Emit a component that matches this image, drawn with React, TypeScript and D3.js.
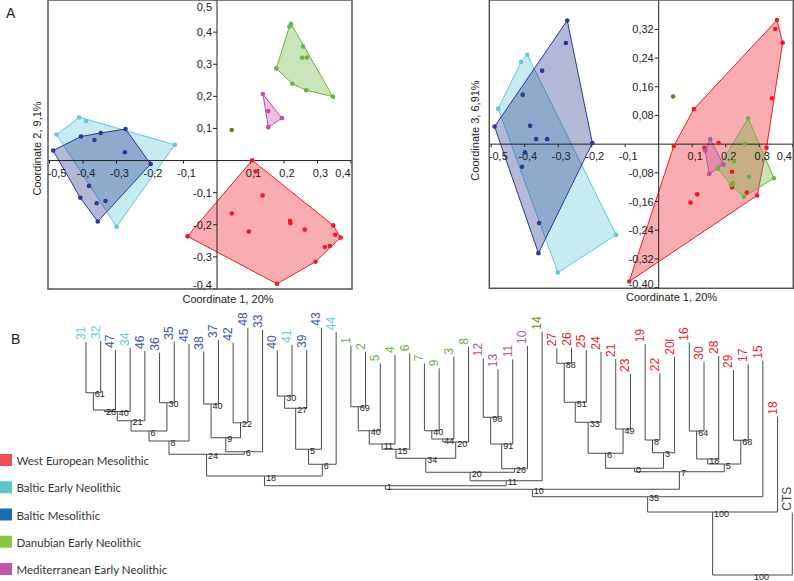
import React from 'react';
import * as d3 from 'd3';

type Pt = [number, number];

// Panel A left: Coordinate 1 (20%) vs Coordinate 2 (9,1%)
const wemA: Pt[] = [[0.105, 0.001], [0.115, -0.034], [0.136, -0.109], [0.044, -0.165], [0.218, -0.188], [0.219, -0.195], [0.262, -0.215], [0.095, -0.221], [-0.088, -0.236], [0.347, -0.202], [0.353, -0.231], [0.369, -0.24], [0.322, -0.269], [0.337, -0.266], [0.294, -0.315], [0.179, -0.384]];
const benA: Pt[] = [[-0.411, 0.135], [-0.391, 0.123], [-0.479, 0.081], [-0.126, 0.049], [-0.3, -0.206]];
const bmA: Pt[] = [[-0.489, 0.031], [-0.406, 0.075], [-0.347, 0.086], [-0.273, 0.098], [-0.366, 0.064], [-0.275, 0.026], [-0.198, -0.011], [-0.382, -0.079], [-0.408, -0.116], [-0.333, -0.126], [-0.359, -0.133], [-0.356, -0.19]];
const denA: Pt[] = [[0.221, 0.426], [0.216, 0.417], [0.257, 0.355], [0.254, 0.32], [0.268, 0.321], [0.177, 0.287], [0.225, 0.239], [0.266, 0.219], [0.346, 0.199]];
const menA: Pt[] = [[0.137, 0.207], [0.153, 0.154], [0.194, 0.132], [0.153, 0.104]];
const isoA: Pt[] = [[0.044, 0.095]];

// Panel A right: Coordinate 1 (20%) vs Coordinate 3 (6,91%)
const wemB: Pt[] = [[0.353, 0.346], [0.348, 0.321], [0.37, 0.283], [0.338, 0.128], [0.105, 0.098], [0.045, -0.005], [0.136, -0.01], [0.179, 0.003], [0.322, -0.01], [0.219, -0.077], [0.219, -0.121], [0.263, -0.135], [0.294, -0.143], [0.115, -0.14], [0.095, -0.163], [-0.088, -0.383]];
const benB: Pt[] = [[-0.392, 0.249], [-0.411, 0.229], [-0.479, 0.099], [-0.127, -0.253], [-0.301, -0.358]];
const bmB: Pt[] = [[-0.273, 0.345], [-0.277, 0.282], [-0.348, 0.205], [-0.406, 0.138], [-0.384, 0.051], [-0.366, 0.014], [-0.333, 0.014], [-0.49, 0.049], [-0.198, 0.003], [-0.399, -0.023], [-0.408, -0.063], [-0.357, -0.22], [-0.359, -0.304]];
const denB: Pt[] = [[0.267, 0.072], [0.257, 0.001], [0.225, -0.048], [0.176, -0.068], [0.269, -0.091], [0.344, -0.095], [0.222, -0.108], [0.216, -0.114], [0.254, -0.147]];
const menB: Pt[] = [[0.154, 0.014], [0.139, -0.018], [0.193, -0.057], [0.151, -0.083]];
const isoB: Pt[] = [[0.043, 0.133]];

const xTicks = [-0.5, -0.4, -0.3, -0.2, -0.1, 0.1, 0.2, 0.3, 0.4];
const yTicksA = [-0.4, -0.3, -0.2, -0.1, 0.1, 0.2, 0.3, 0.4, 0.5];
const yTicksB = [-0.4, -0.32, -0.24, -0.16, -0.08, 0.08, 0.16, 0.24, 0.32];

const legendLabels = ['West European Mesolithic', 'Baltic Early Neolithic', 'Baltic Mesolithic', 'Danubian Early Neolithic', 'Mediterranean Early Neolithic'];
const legendKeys = ['wem', 'ben', 'bm', 'den', 'men'];

// Panel B: leaves left to right, their group and tip height
const leafLabels = ['31', '32', '47', '34', '46', '36', '35', '45', '38', '37', '42', '48', '33', '40', '41', '39', '43', '44', '1', '2', '5', '4', '6', '7', '9', '3', '8', '12', '13', '11', '10', '14', '27', '26', '25', '24', '21', '23', '19', '22', '20l', '16', '30', '28', '29', '17', '15', '18', 'CTS'];
const leafGroups = ['ben', 'ben', 'bm', 'ben', 'bm', 'bm', 'bm', 'bm', 'bm', 'bm', 'bm', 'bm', 'bm', 'bm', 'ben', 'bm', 'bm', 'ben', 'den', 'den', 'den', 'den', 'den', 'den', 'den', 'den', 'den', 'men', 'men', 'men', 'men', 'iso', 'wem', 'wem', 'wem', 'wem', 'wem', 'wem', 'wem', 'wem', 'wem', 'wem', 'wem', 'wem', 'wem', 'wem', 'wem', 'wem', 'out'];
const leafHeights = [93.2, 93.6, 90, 90.8, 89.6, 88.9, 93.3, 92.4, 89.3, 94, 92.9, 98.9, 98, 89.7, 92, 90, 98.9, 97.1, 91.7, 89.3, 84.7, 88, 88.7, 84.7, 82.7, 87.3, 91.3, 86.7, 82.3, 86.3, 91.6, 97.3, 90.7, 90.9, 90, 89.3, 86.4, 80.4, 92.3, 80.7, 87.3, 92.9, 85.3, 87.6, 82, 84.4, 85.7, 63.3, 24.9];

// merges: [child a, child b, node height, bootstrap]; numbers refer to earlier merges
const merges: [string | number, string | number, number, number][] = [
  ['31', '32', 72.9, 61], [0, '47', 66, 26], [1, '34', 65.4, 40], [2, '46', 61.7, 21],
  ['36', '35', 68.9, 30], [3, 4, 57.6, 6], [5, '45', 53.6, 8], ['38', '37', 68.4, 40],
  ['42', '48', 60.9, 22], [7, 8, 54.9, 9], [9, '33', 49.3, 6], [6, 10, 48.3, 24],
  ['40', '41', 71.6, 30], [12, '39', 66.7, 27], [13, '43', 50.3, 5], [14, '44', 44.3, 6],
  [11, 15, 39.6, 18], ['1', '2', 67.3, 69], [17, '5', 57.7, 40], [18, '4', 52.4, 11],
  [19, '6', 50.3, 15], ['7', '9', 57.7, 40], [21, '3', 54.4, 44], [22, '8', 53.2, 20],
  [20, 23, 46.7, 34], ['12', '13', 63.1, 98], [25, '11', 52.4, 91], [26, '10', 42.5, 26],
  [24, 27, 41.1, 20], [28, '14', 37.7, 11], [16, 29, 35.7, 1], ['27', '26', 84.7, 88],
  [31, '25', 69.1, 51], [32, '24', 61.1, 33], ['21', '23', 58.4, 49], [33, 34, 48.7, 6],
  ['19', '22', 54, 8], [36, '20l', 48.9, 3], [35, 37, 42.7, 0], ['16', '30', 57.6, 64],
  [39, '28', 46.4, 18], ['29', '17', 53.9, 68], [40, 41, 44.4, 5], [38, 42, 41.3, 7],
  [30, 43, 34.3, 10], [44, '15', 31.3, 35], [45, '18', 25.2, 100], [46, 'CTS', 0, 100],
];

const FILL: Record<string, string> = { wem: '#ed1c24', ben: '#62c7d8', bm: '#2b3990', den: '#6cb33f', men: '#c14fa5', iso: '#6f7d1e' };
const LABEL: Record<string, string> = { wem: '#e8232b', ben: '#6ccbdb', bm: '#3f55a6', den: '#6cb33f', men: '#b553a0', iso: '#7a8a1f', out: '#444' };
const LEGEND: Record<string, string> = { wem: '#ef4f55', ben: '#5cc5d0', bm: '#1c6cb3', den: '#8cc63f', men: '#c256a8' };
const FONT = '"Liberation Sans", Arial, sans-serif';

const fmt = (v: number, d: number) => v.toFixed(d).replace('.', ',');

function Scatter({ left, right, top, bottom, xDomain, yDomain, series, yTicks, yDigits, xTitle, xTitlePos, yTitle, yTitlePos }: any) {
  const x = d3.scaleLinear().domain(xDomain).range([left, right]);
  const y = d3.scaleLinear().domain(yDomain).range([bottom, top]);
  const x0 = x(0), y0 = y(0);
  const groups = series.map(([key, pts]: [string, Pt[]]) => {
    const px = pts.map(p => [x(p[0]), y(p[1])] as [number, number]);
    return { key, px, hull: px.length >= 3 ? d3.polygonHull(px) : null };
  });
  return (
    <g fontFamily={FONT}>
      {groups.map((g: any) => g.hull && (
        <path key={'h' + g.key} d={'M' + g.hull.join('L') + 'Z'} fill={FILL[g.key]} fillOpacity={0.36} stroke={FILL[g.key]} strokeWidth={1} />
      ))}
      <line x1={x0} x2={x0} y1={top} y2={bottom} stroke="#222" />
      <line x1={left} x2={right} y1={y0} y2={y0} stroke="#222" />
      {xTicks.map(v => (
        <g key={'x' + v}>
          <line x1={x(v)} x2={x(v)} y1={y0} y2={y0 + 3} stroke="#222" />
          <text x={Math.max(left + 9, Math.min(right - 9, x(v) + 3))} y={y0 + 16} fontSize={11} textAnchor="middle" fill="#222">{fmt(v, 1)}</text>
        </g>
      ))}
      {yTicks.map((v: number) => (
        <g key={'y' + v}>
          <line x1={x0 - 4} x2={x0} y1={y(v)} y2={y(v)} stroke="#222" />
          <text x={x0 - 5} y={Math.max(top + 11, Math.min(bottom - 0.5, y(v) + 4))} fontSize={11} textAnchor="end" fill="#222">{fmt(v, yDigits)}</text>
        </g>
      ))}
      {groups.map((g: any) => g.px.map((p: [number, number], i: number) => (
        <circle key={g.key + i} cx={p[0]} cy={p[1]} r={2.3} fill={FILL[g.key]} />
      )))}
      <rect x={left} y={top} width={right - left} height={bottom - top} fill="none" stroke="#555" strokeWidth={1.5} />
      <text x={xTitlePos[0]} y={xTitlePos[1]} fontSize={11} textAnchor="middle" fill="#222">{xTitle}</text>
      <text transform={`translate(${yTitlePos[0]},${yTitlePos[1]}) rotate(-90)`} fontSize={11} textAnchor="middle" fill="#222">{yTitle}</text>
    </g>
  );
}

function Dendrogram() {
  const x = d3.scalePoint<string>().domain(leafLabels).range([86, 792.3]);
  const y = d3.scaleLinear().domain([0, 100]).range([575, 325]);
  const leaves = new Map(leafLabels.map((l, i) => [l, { x: x(l) as number, h: leafHeights[i] }]));
  const nodes: { x: number; h: number }[] = [];
  const get = (id: string | number) => (typeof id === 'number' ? nodes[id] : leaves.get(id)!);
  const paths: string[] = [];
  const supports: { x: number; y: number; s: number }[] = [];
  merges.forEach(([a, b, h, s]) => {
    const A = get(a), B = get(b);
    const n = { x: (A.x + B.x) / 2, h };
    nodes.push(n);
    paths.push(`M${A.x},${y(A.h)}V${y(h)}H${B.x}V${y(B.h)}`);
    supports.push({ x: n.x, y: y(h), s });
  });
  return (
    <g fontFamily={FONT}>
      {paths.map((d, i) => <path key={i} d={d} fill="none" stroke="#4a4a4a" strokeWidth={1} />)}
      {supports.map((s, i) => (
        <text key={i} x={s.x + 1.5} y={s.y + 4.5} fontSize={9} fill="#222">{s.s}</text>
      ))}
      {leafLabels.map((l, i) => (
        <text key={l} transform={`translate(${(x(l) as number) - 1},${y(leafHeights[i]) - 2}) rotate(-90)`} fontSize={12} fill={LABEL[leafGroups[i]]}>{l}</text>
      ))}
    </g>
  );
}

export default function App() {
  return (
    <div>
      <style>{'body{margin:0}'}</style>
      <svg width={794} height={581} style={{ display: 'block', background: '#fff' }}>
        <text x={6} y={18} fontSize={14} fontFamily={FONT} fill="#222">A</text>
        <Scatter left={48} right={352} top={0} bottom={289} xDomain={[-0.5045, 0.403]} yDomain={[-0.4, 0.5]}
          series={[['ben', benA], ['bm', bmA], ['wem', wemA], ['den', denA], ['men', menA], ['iso', isoA]]}
          yTicks={yTicksA} yDigits={1} xTitle="Coordinate 1, 20%" xTitlePos={[228, 302.5]} yTitle="Coordinate 2, 9,1%" yTitlePos={[41, 148.5]} />
        <Scatter left={489.3} right={793.3} top={0} bottom={288.3} xDomain={[-0.5057, 0.4018]} yDomain={[-0.402, 0.402]}
          series={[['ben', benB], ['bm', bmB], ['wem', wemB], ['den', denB], ['men', menB], ['iso', isoB]]}
          yTicks={yTicksB} yDigits={2} xTitle="Coordinate 1, 20%" xTitlePos={[671.5, 300.5]} yTitle="Coordinate 3, 6,91%" yTitlePos={[479, 130.5]} />
        <text x={11} y={344} fontSize={14} fontFamily={FONT} fill="#222">B</text>
        <Dendrogram />
        {legendLabels.map((l, i) => (
          <g key={l}>
            <rect x={0} y={454 + i * 27.25} width={12} height={12} fill={LEGEND[legendKeys[i]]} />
            <text x={16.5} y={465 + i * 27.25} fontSize={11.5} fontFamily="Lato, sans-serif" fill="#333">{l}</text>
          </g>
        ))}
      </svg>
    </div>
  );
}
